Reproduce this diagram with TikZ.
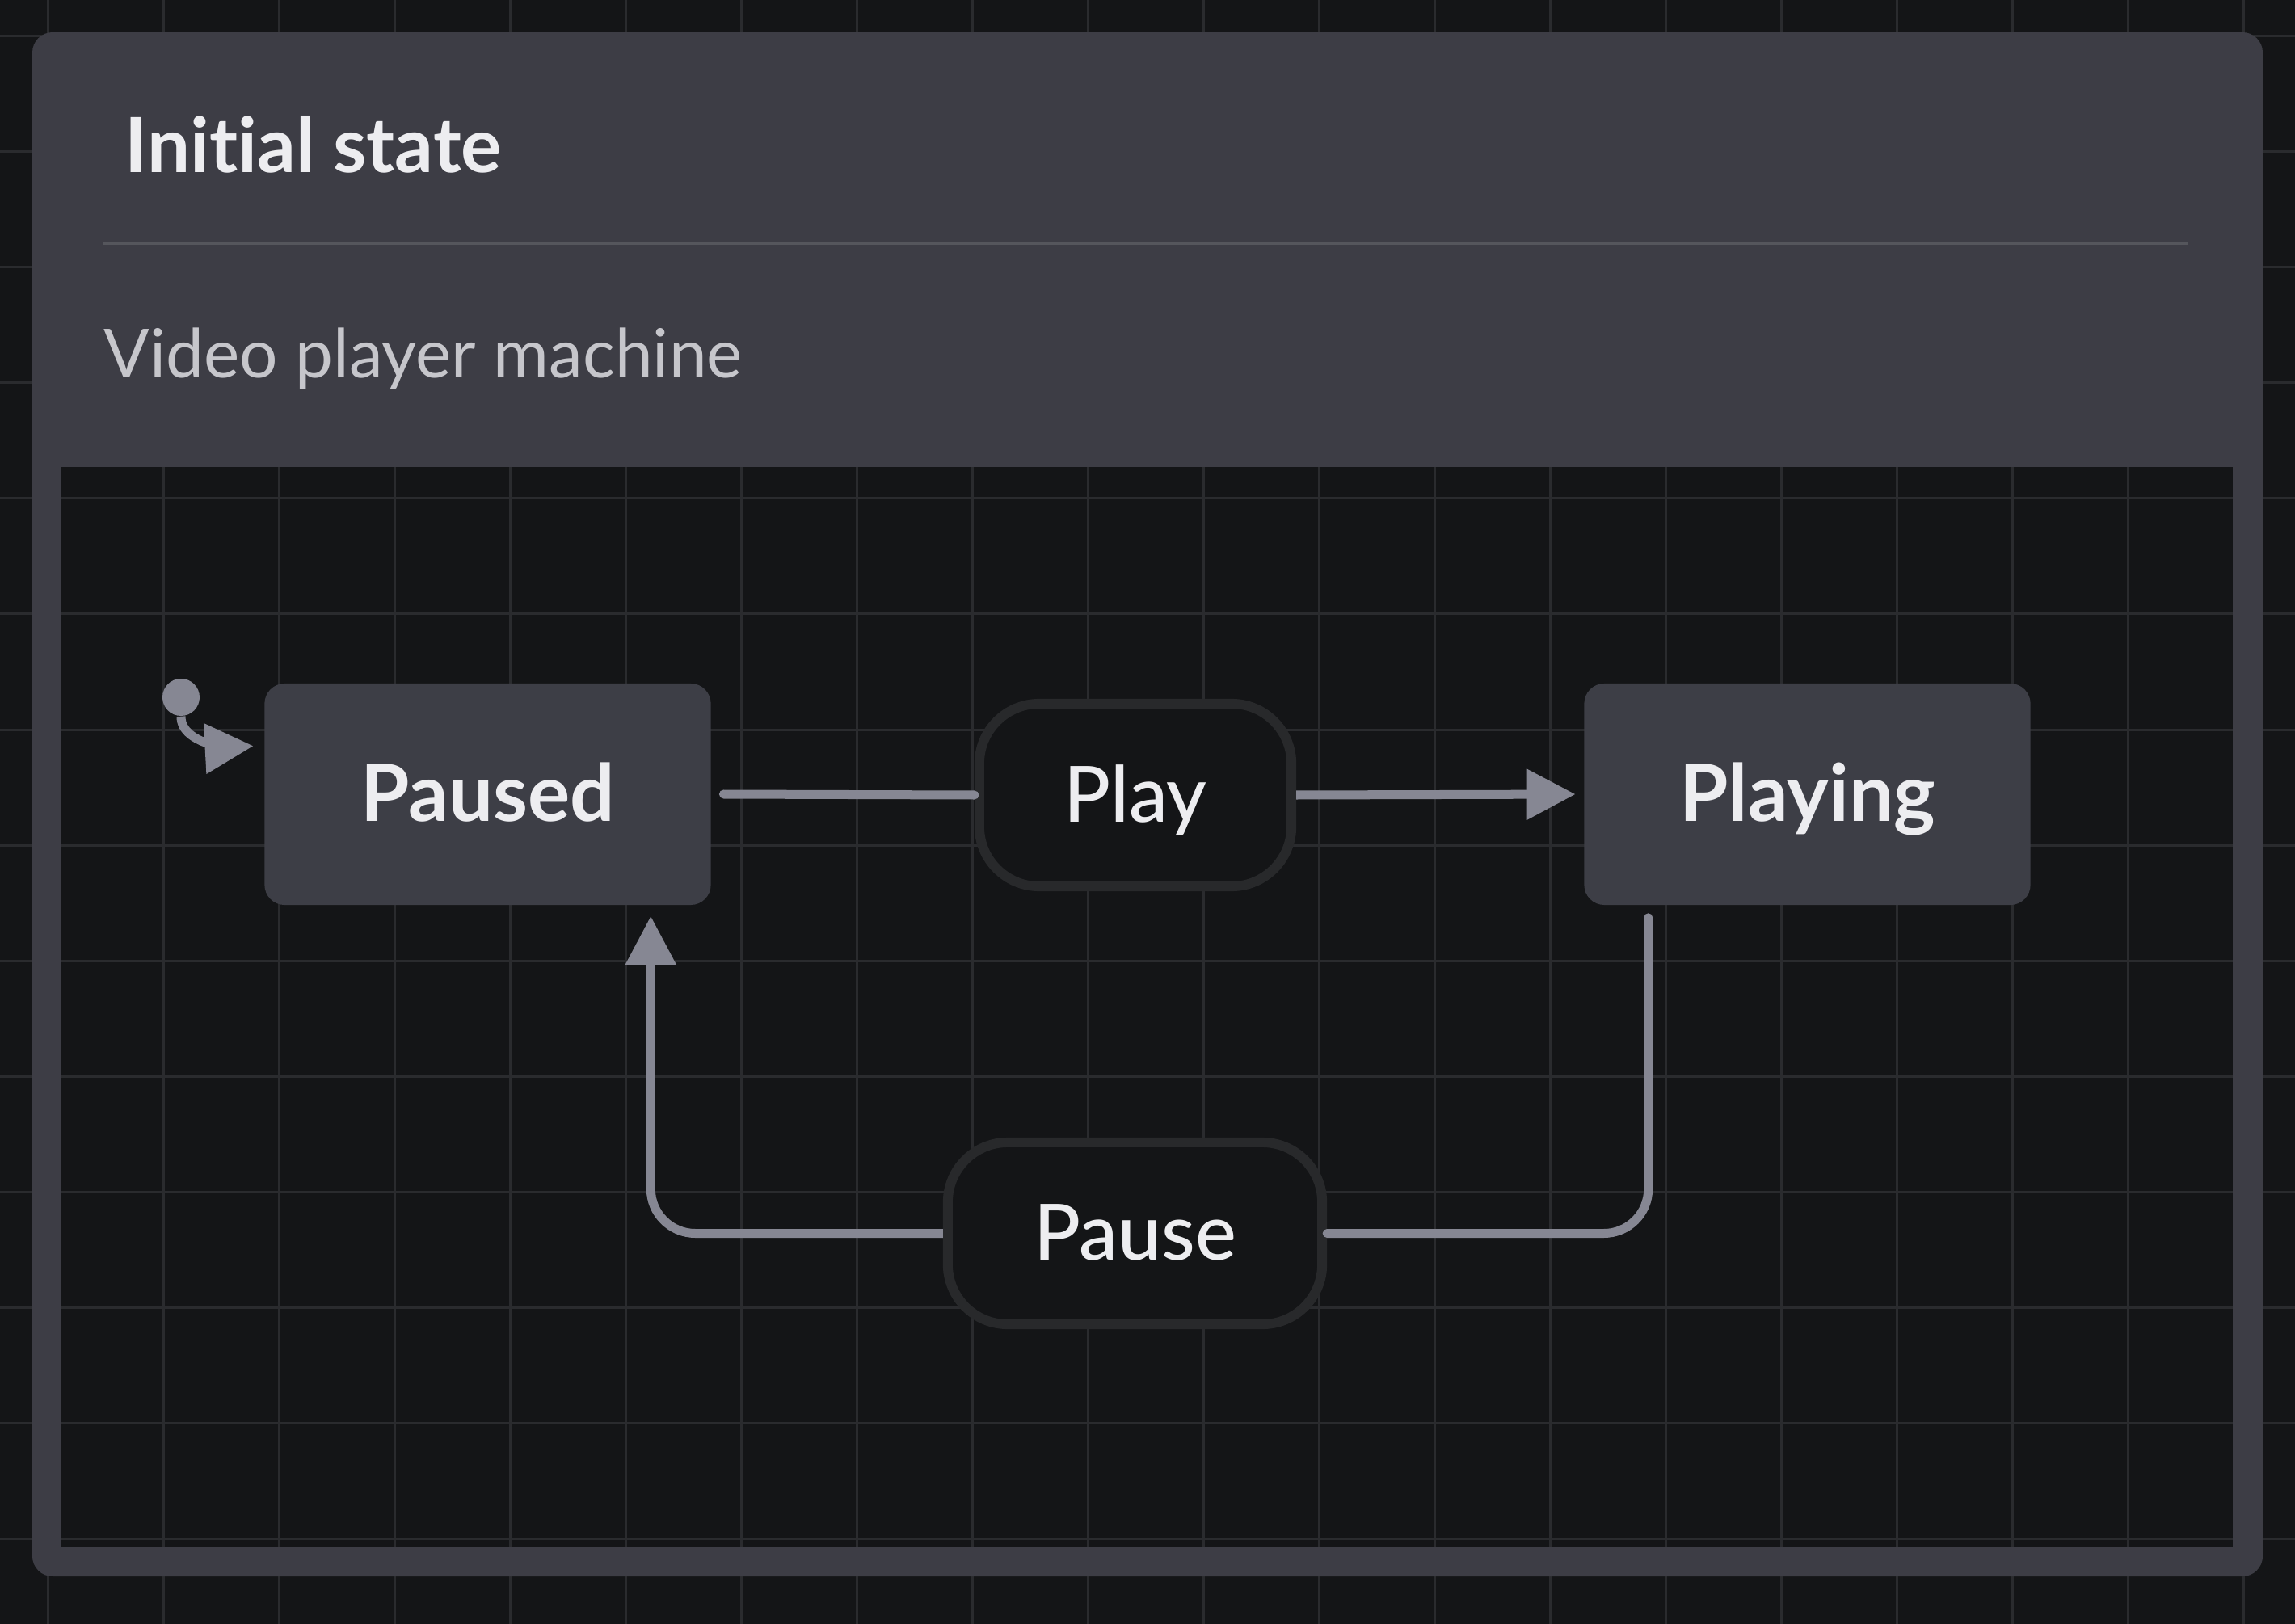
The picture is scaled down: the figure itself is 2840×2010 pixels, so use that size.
\documentclass[tikz,border=0pt]{standalone}
\usepackage{fontspec}
\setmainfont{Lato}[Ligatures=NoCommon]
\newfontfamily\medfont{Lato Medium}[Ligatures=NoCommon]
\definecolor{canvas1}{RGB}{20,21,23}
\definecolor{grid1}{RGB}{42,43,46}
\definecolor{panel1}{RGB}{61,61,69}
\definecolor{statefill}{RGB}{61,62,70}
\definecolor{wire1}{RGB}{134,135,147}
\definecolor{evborder}{RGB}{40,41,43}
\definecolor{text1}{RGB}{237,237,240}
\definecolor{subtext}{RGB}{198,198,203}
\definecolor{sep1}{RGB}{85,86,92}
\usepackage{tikz}
\usetikzlibrary{arrows.meta, calc}

\begin{document}
\begin{tikzpicture}[x=0.01cm, y=-0.01cm,
  statebox/.style={fill=statefill, rounded corners=0.25cm, minimum width=5.52cm, minimum height=2.74cm,
    inner sep=0pt, text=text1, font=\fontsize{27.8}{30}\selectfont\bfseries, text height=18.8pt, text depth=0pt},
  eventbox/.style={draw=evborder, line width=0.12cm, fill=canvas1, rounded corners=0.74cm, inner sep=0pt,
    text=text1, font=\medfont\fontsize{27.3}{30}\selectfont, text height=18.8pt, text depth=0pt},
  wire/.style={draw=wire1, line width=0.11cm},
  arrowed/.style={-{Triangle[length=0.6cm, width=0.6cm]}}]
  \useasboundingbox (0,0) rectangle (2840,2010);
  \fill[canvas1] (0,0) rectangle (2840,2010);
  \foreach \gx in {59,202,...,2776} \draw[grid1, line width=0.03cm] (\gx,0) -- (\gx,2010);
  \foreach \gy in {45,188,...,1904} \draw[grid1, line width=0.03cm] (0,\gy) -- (2840,\gy);
  \fill[panel1, even odd rule] [rounded corners=0.25cm] (40,40) rectangle (2800,1951)
    [sharp corners] (75,578) rectangle (2763,1915);

  \node[anchor=base west, inner sep=0pt, text=text1, font=\fontsize{26.8}{30}\selectfont\bfseries] (title) at (154,214) {Initial state};
  \draw[sep1, line width=0.04cm] (128,301) -- (2708,301);
  \node[anchor=base west, inner sep=0pt, text=subtext, font=\fontsize{23.8}{27}\selectfont] (machine) at (128,468) {Video player machine};

  \node[statebox] (paused) at (603.5,983) {Paused};
  \node[eventbox, minimum width=3.86cm, minimum height=2.26cm] (play) at (1405,984) {Play};
  \node[statebox] (playing) at (2236.5,983) {Playing};
  \node[eventbox, minimum width=4.63cm, minimum height=2.25cm] (pause) at (1404.5,1526.5) {Pause};
  \node[circle, fill=wire1, minimum size=0.46cm, inner sep=0pt] (init) at (224,863) {};

  \draw[wire, arrowed] (init.south) .. controls (224,925) and (300,924) .. ([shift={(-0.13cm,-0.78cm)}]paused.north west);
  \draw[wire, line cap=round] ([xshift=0.15cm]paused.east) -- (play.west);
  \draw[wire, arrowed, shorten >=0.1cm] (play.east) -- (playing.west);
  \draw[wire, line cap=round, rounded corners=0.55cm] ([shift={(0.8cm,-0.15cm)}]playing.south west) |- (pause.east);
  \draw[wire, arrowed, rounded corners=0.55cm, shorten >=0.13cm] (pause.west) -| ([xshift=-0.75cm]paused.south east);
\end{tikzpicture}
\end{document}
